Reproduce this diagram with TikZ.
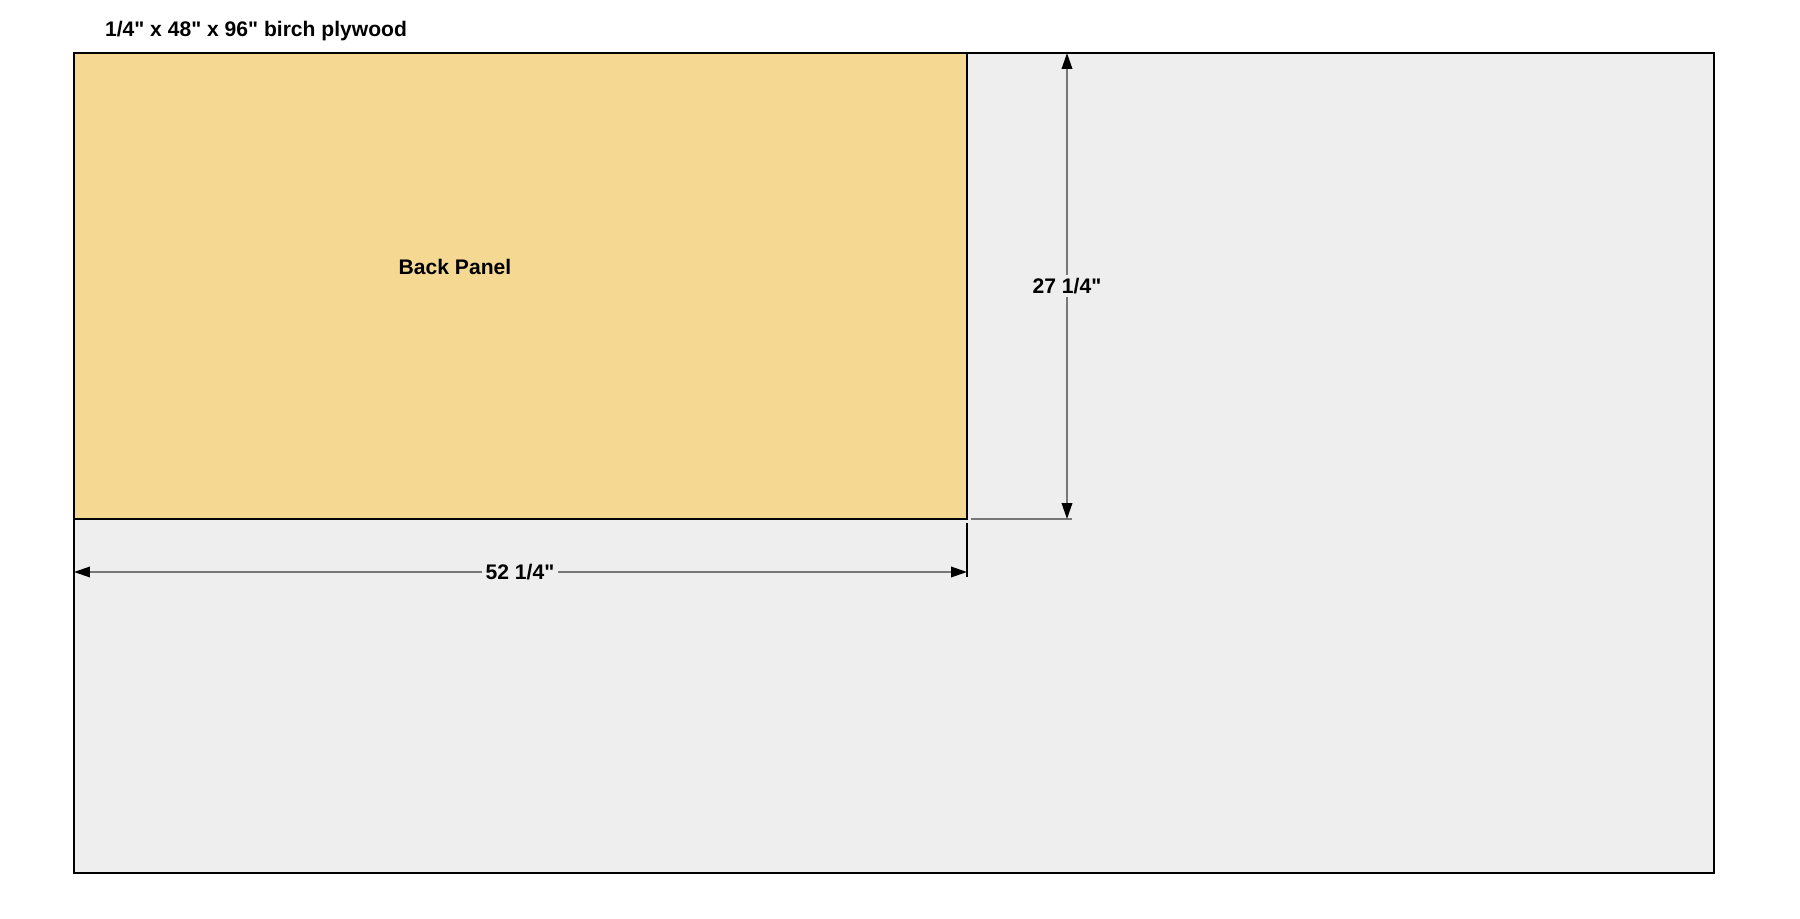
\documentclass[tikz,border=0pt]{standalone}
\usepackage{fontspec}
\setmainfont{Liberation Sans}[Ligatures=TeXOff]
\usetikzlibrary{arrows.meta}
\definecolor{sheetgray}{HTML}{EEEEEE}
\definecolor{panelfill}{HTML}{F5D993}
\definecolor{dimgray}{HTML}{777777}

\begin{document}
\begin{tikzpicture}[x=0.02cm, y=-0.02cm,
  sheet/.style = {draw=black, line width=1.1pt, fill=sheetgray},
  part/.style = {draw=black, line width=1.1pt, fill=panelfill},
  dimline/.style = {draw=dimgray, line width=1.1pt, {Triangle[color=black, length=0.32cm, width=0.21cm]}-{Triangle[color=black, length=0.32cm, width=0.21cm]}},
  extline/.style = {draw=dimgray, line width=1.1pt},
  lbl/.style = {font=\bfseries\fontsize{12}{14}\selectfont, inner sep=1pt},
  dimlbl/.style = {lbl, fill=sheetgray, inner sep=2pt}]
\useasboundingbox (0,0) rectangle (1800,919);
% plywood sheet and the cut part
\draw[sheet] (74,53) rectangle (1714,873);
\draw[part] (74,53) rectangle (967,519);
\node[lbl] (title) at (103,31) [anchor=west] {1/4" x 48" x 96" birch plywood};
\node[lbl] (back) at (455,267) {Back Panel};
% dimension points
\coordinate (wl) at (74,572);
\coordinate (wr) at (967,572);
\coordinate (ht) at (1067,53);
\coordinate (hb) at (1067,519);
% extension lines
\draw[black, line width=0.6pt] (967,523) -- (967,577);
\draw[extline] (971,519) -- (1072,519);
% dimensions
\draw[dimline] (wl) -- (wr);
\node[dimlbl] (width) at (520,572) {52 1/4"};
\draw[dimline] (ht) -- (hb);
\node[dimlbl] (height) at (1067,286) {27 1/4"};
\end{tikzpicture}
\end{document}
